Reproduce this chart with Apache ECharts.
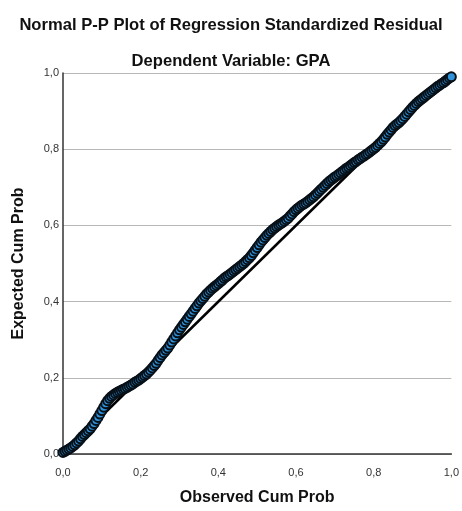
<!DOCTYPE html>
<html>
<head>
<meta charset="utf-8">
<script src="https://cdn.jsdelivr.net/npm/echarts@6/dist/echarts.min.js"></script>
<style>
  html, body { margin: 0; padding: 0; background: #fff; }
  #chart { width: 462px; height: 511px; }
</style>
</head>
<body>
<div id="chart"></div>
<script>
// Observed cumulative probability of each standardized residual
const observedCumProb = [
  0.000, 0.005, 0.010, 0.015, 0.020, 0.025, 0.030, 0.035, 0.040, 0.045,
  0.050, 0.055, 0.060, 0.065, 0.070, 0.075, 0.080, 0.085, 0.090, 0.095,
  0.100, 0.105, 0.110, 0.115, 0.120, 0.125, 0.130, 0.135, 0.140, 0.145,
  0.150, 0.155, 0.160, 0.165, 0.170, 0.175, 0.180, 0.185, 0.190, 0.195,
  0.200, 0.205, 0.210, 0.215, 0.220, 0.225, 0.230, 0.235, 0.240, 0.245,
  0.250, 0.255, 0.260, 0.265, 0.270, 0.275, 0.280, 0.285, 0.290, 0.295,
  0.300, 0.305, 0.310, 0.315, 0.320, 0.325, 0.330, 0.335, 0.340, 0.345,
  0.350, 0.355, 0.360, 0.365, 0.370, 0.375, 0.380, 0.385, 0.390, 0.395,
  0.400, 0.405, 0.410, 0.415, 0.420, 0.425, 0.430, 0.435, 0.440, 0.445,
  0.450, 0.455, 0.460, 0.465, 0.470, 0.475, 0.480, 0.485, 0.490, 0.495,
  0.500, 0.505, 0.510, 0.515, 0.520, 0.525, 0.530, 0.535, 0.540, 0.545,
  0.550, 0.555, 0.560, 0.565, 0.570, 0.575, 0.580, 0.585, 0.590, 0.595,
  0.600, 0.605, 0.610, 0.615, 0.620, 0.625, 0.630, 0.635, 0.640, 0.645,
  0.650, 0.655, 0.660, 0.665, 0.670, 0.675, 0.680, 0.685, 0.690, 0.695,
  0.700, 0.705, 0.710, 0.715, 0.720, 0.725, 0.730, 0.735, 0.740, 0.745,
  0.750, 0.755, 0.760, 0.765, 0.770, 0.775, 0.780, 0.785, 0.790, 0.795,
  0.800, 0.805, 0.810, 0.815, 0.820, 0.825, 0.830, 0.835, 0.840, 0.845,
  0.850, 0.855, 0.860, 0.865, 0.870, 0.875, 0.880, 0.885, 0.890, 0.895,
  0.900, 0.905, 0.910, 0.915, 0.920, 0.925, 0.930, 0.935, 0.940, 0.945,
  0.950, 0.955, 0.960, 0.965, 0.970, 0.975, 0.980, 0.985, 0.990, 0.995,
  1.000
];

// Expected cumulative probability under the normal distribution
const expectedCumProb = [
  0.004, 0.007, 0.010, 0.013, 0.016, 0.020, 0.024, 0.029, 0.034, 0.040,
  0.046, 0.051, 0.056, 0.061, 0.066, 0.073, 0.080, 0.088, 0.096, 0.105,
  0.114, 0.123, 0.132, 0.140, 0.146, 0.151, 0.155, 0.159, 0.162, 0.165,
  0.167, 0.170, 0.172, 0.175, 0.178, 0.181, 0.184, 0.188, 0.191, 0.194,
  0.198, 0.202, 0.206, 0.210, 0.215, 0.220, 0.226, 0.232, 0.238, 0.246,
  0.253, 0.260, 0.266, 0.272, 0.278, 0.286, 0.294, 0.302, 0.310, 0.318,
  0.326, 0.333, 0.340, 0.347, 0.354, 0.361, 0.368, 0.375, 0.382, 0.389,
  0.396, 0.402, 0.408, 0.414, 0.420, 0.425, 0.430, 0.435, 0.439, 0.443,
  0.447, 0.452, 0.456, 0.461, 0.465, 0.468, 0.472, 0.476, 0.480, 0.484,
  0.488, 0.492, 0.496, 0.500, 0.505, 0.510, 0.515, 0.521, 0.528, 0.535,
  0.542, 0.549, 0.556, 0.562, 0.568, 0.574, 0.579, 0.584, 0.589, 0.593,
  0.597, 0.601, 0.604, 0.607, 0.611, 0.615, 0.619, 0.625, 0.630, 0.636,
  0.641, 0.645, 0.649, 0.653, 0.656, 0.659, 0.663, 0.667, 0.671, 0.675,
  0.680, 0.685, 0.690, 0.695, 0.700, 0.705, 0.710, 0.715, 0.719, 0.723,
  0.727, 0.730, 0.734, 0.738, 0.742, 0.746, 0.750, 0.753, 0.757, 0.761,
  0.765, 0.768, 0.772, 0.775, 0.779, 0.782, 0.786, 0.789, 0.793, 0.797,
  0.801, 0.805, 0.810, 0.815, 0.820, 0.826, 0.832, 0.839, 0.845, 0.851,
  0.857, 0.862, 0.866, 0.870, 0.875, 0.880, 0.886, 0.892, 0.898, 0.904,
  0.910, 0.915, 0.920, 0.925, 0.929, 0.933, 0.937, 0.941, 0.945, 0.949,
  0.953, 0.957, 0.961, 0.965, 0.968, 0.972, 0.975, 0.979, 0.983, 0.987,
  0.990
];

// Reference line of a perfectly normal distribution
const diagonalStart = [0, 0];
const diagonalEnd = [1, 1];

const axisTicks = [0, 0.2, 0.4, 0.6, 0.8, 1.0];

const points = observedCumProb.map((x, i) => [x, expectedCumProb[i]]);
const fmt = v => v.toFixed(1).replace('.', ',');
const FONT = 'Liberation Sans, Arial, sans-serif';

const chart = echarts.init(document.getElementById('chart'), null, { renderer: 'canvas' });
chart.setOption({
  animation: false,
  backgroundColor: '#ffffff',
  textStyle: { fontFamily: FONT },
  title: [
    {
      text: 'Normal P-P Plot of Regression Standardized Residual',
      left: 'center', top: 12,
      textStyle: { fontSize: 16.6, fontWeight: 'bold', color: '#111', fontFamily: FONT }
    },
    {
      text: 'Dependent Variable: GPA',
      left: 'center', top: 48,
      textStyle: { fontSize: 16.6, fontWeight: 'bold', color: '#111', fontFamily: FONT }
    }
  ],
  grid: { left: 63, right: 7, top: 73, bottom: 52, containLabel: false },
  xAxis: {
    type: 'value',
    min: axisTicks[0], max: axisTicks[axisTicks.length - 1], interval: 0.2,
    name: 'Observed Cum Prob',
    nameLocation: 'middle', nameGap: 36,
    nameTextStyle: { fontSize: 16, fontWeight: 'bold', color: '#111' },
    axisLine: { show: true, onZero: false, lineStyle: { color: '#333', width: 1.5 } },
    axisTick: { show: false },
    axisLabel: { formatter: fmt, fontSize: 11, color: '#333', margin: 13 },
    splitLine: { show: false }
  },
  yAxis: {
    type: 'value',
    min: axisTicks[0], max: axisTicks[axisTicks.length - 1], interval: 0.2,
    name: 'Expected Cum Prob',
    nameLocation: 'middle', nameGap: 36,
    nameTextStyle: { fontSize: 16, fontWeight: 'bold', color: '#111' },
    axisLine: { show: true, onZero: false, lineStyle: { color: '#333', width: 1.5 } },
    axisTick: { show: false },
    axisLabel: { formatter: fmt, fontSize: 11, color: '#333', margin: 4 },
    splitLine: { show: true, lineStyle: { color: '#b8b8b8', width: 1 } }
  },
  series: [
    {
      type: 'line',
      data: [diagonalStart, diagonalEnd],
      symbol: 'none',
      lineStyle: { color: '#000', width: 2.5 },
      z: 2
    },
    {
      type: 'scatter',
      data: points,
      symbol: 'circle',
      symbolSize: 9,
      itemStyle: { color: '#2f93db', borderColor: '#081018', borderWidth: 2, opacity: 1 },
      z: 3
    }
  ]
});
</script>
</body>
</html>
